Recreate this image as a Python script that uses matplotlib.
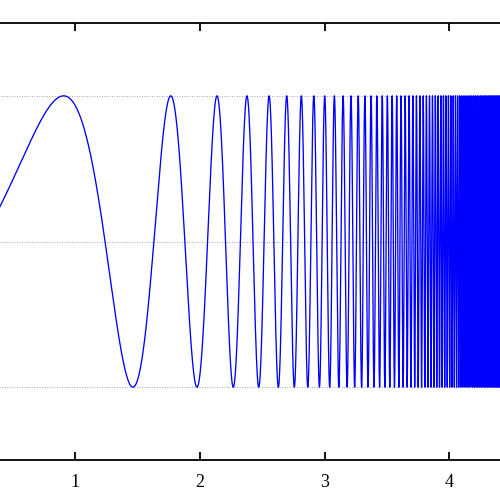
import numpy as np
import matplotlib
matplotlib.use('Agg')
import matplotlib.pyplot as plt

# Chirp: y = sin(amp * exp(rate * x) + offset)
chirp_amp = 0.68      # phase scale
chirp_rate = 1.45     # exponential growth of the frequency
chirp_offset = -0.97  # phase offset
x_start, x_end = 0.0, 5.0
n_samples = 200000

# Axis settings
x_ticks = [1, 2, 3, 4]
y_ticks = [-1, 0, 1]
y_limits = (-1.5, 1.5)

x = np.linspace(x_start, x_end, n_samples)
y = np.sin(chirp_amp * np.exp(chirp_rate * x) + chirp_offset)

plt.rcParams['font.family'] = ['Liberation Serif', 'DejaVu Serif']

fig = plt.figure(figsize=(5, 5), dpi=100)
# axes reach past the left and right edges of the figure (cropped view)
ax = fig.add_axes([-49.8 / 500, 0.08, 5 * 124.77 / 500, 0.874])

ax.plot(x, y, color='#0000ff', linewidth=0.95)

ax.set_xlim(x_start, x_end)
ax.set_ylim(*y_limits)
ax.set_xticks(x_ticks)
ax.set_xticklabels([str(t) for t in x_ticks])
ax.set_yticks(y_ticks)
ax.yaxis.grid(True, linestyle=(0, (1, 2)), color='#888888', linewidth=0.6)
ax.set_axisbelow(True)

# y tick labels sit outside the cropped view, so leave them off
ax.tick_params(axis='both', direction='in', length=6, width=1.3,
               top=True, right=True, labelsize=13, pad=10)
ax.tick_params(axis='y', labelleft=False)
for side in ax.spines.values():
    side.set_linewidth(1.3)

fig.savefig('out.png', dpi=100)
